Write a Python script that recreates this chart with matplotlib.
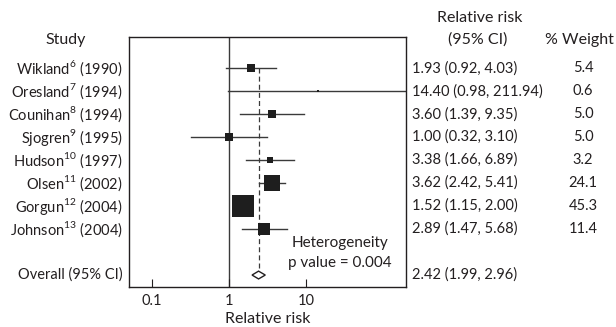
import numpy as np
import matplotlib.pyplot as plt
from matplotlib.transforms import blended_transform_factory

plt.rcParams["font.family"] = ["Lato", "DejaVu Sans"]
plt.rcParams["mathtext.fontset"] = "custom"
plt.rcParams["mathtext.rm"] = "Lato"

# data
studies = ["Wikland", "Oresland", "Counihan", "Sjogren", "Hudson", "Olsen", "Gorgun", "Johnson"]
refs = ["6", "7", "8", "9", "10", "11", "12", "13"]
years = ["1990", "1994", "1994", "1995", "1997", "2002", "2004", "2004"]
rr = [1.93, 14.40, 3.60, 1.00, 3.38, 3.62, 1.52, 2.89]
ci_low = [0.92, 0.98, 1.39, 0.32, 1.66, 2.42, 1.15, 1.47]
ci_high = [4.03, 211.94, 9.35, 3.10, 6.89, 5.41, 2.00, 5.68]
weights = [5.4, 0.6, 5.0, 5.0, 3.2, 24.1, 45.3, 11.4]
overall = 2.42
overall_low = 1.99
overall_high = 2.96
xticks = [0.1, 1, 10]
xtick_labels = ["0.1", "1", "10"]

TEXT_COLOR = "#231f20"
LINE_COLOR = "#3a3a3a"
FS = 10.5
FS_HEAD = 11.5

fig = plt.figure(figsize=(6.16, 3.27), dpi=100)
ax = fig.add_axes([129 / 616, 1 - 287 / 327, 277 / 616, 250 / 327])

rows = np.arange(len(studies))
overall_row = 9
half_h = 0.17

ax.axvline(1, color=LINE_COLOR, lw=1.0, zorder=1)
ax.plot([overall, overall], [rows[0], overall_row - half_h], color=LINE_COLOR,
        lw=0.9, ls=(0, (4, 2.5)), zorder=1)

for y, est, lo, hi, w in zip(rows, rr, ci_low, ci_high, weights):
    ax.plot([lo, hi], [y, y], color=LINE_COLOR, lw=1.0, zorder=2)
    ax.plot([est], [y], marker="s", color="#1e1e1e", markersize=2.45 * np.sqrt(w),
            markeredgewidth=0, zorder=3)

ax.fill([overall_low, overall, overall_high, overall],
        [overall_row, overall_row - half_h, overall_row, overall_row + half_h],
        facecolor="white", edgecolor=TEXT_COLOR, lw=1.0, zorder=4)

ax.set_xscale("log")
ax.set_xlim(0.05, 200)
ax.set_ylim(9.52, -1.35)
ax.set_xticks(xticks)
ax.set_xticklabels(xtick_labels)
ax.minorticks_off()
ax.set_yticks([])
ax.tick_params(axis="x", direction="in", length=6, width=0.8, colors=TEXT_COLOR,
               labelsize=FS, pad=5)
for spine in ax.spines.values():
    spine.set_color(TEXT_COLOR)
    spine.set_linewidth(1.0)
ax.set_xlabel("Relative risk", fontsize=FS_HEAD, color=TEXT_COLOR, labelpad=3)

ax.text(0.76, 8.05, "Heterogeneity\np value = 0.004", transform=blended_transform_factory(ax.transAxes, ax.transData),
        ha="center", va="center", fontsize=11, color=TEXT_COLOR, linespacing=1.6)

tr = blended_transform_factory(fig.transFigure, ax.transData)
for y, name, ref, year, est, lo, hi, w in zip(rows, studies, refs, years, rr, ci_low, ci_high, weights):
    ax.text(123 / 616, y, f"{name}$^{{{ref}}}$ ({year})", transform=tr, ha="right",
            va="center", fontsize=FS, color=TEXT_COLOR)
    ax.text(412 / 616, y, f"{est:.2f} ({lo:.2f}, {hi:.2f})", transform=tr, ha="left",
            va="center", fontsize=FS, color=TEXT_COLOR)
    ax.text(583 / 616, y, f"{w:.1f}", transform=tr, ha="center", va="center",
            fontsize=FS, color=TEXT_COLOR)

ax.text(123 / 616, overall_row, "Overall (95% CI)", transform=tr, ha="right",
        va="center", fontsize=FS, color=TEXT_COLOR)
ax.text(412 / 616, overall_row, f"{overall:.2f} ({overall_low:.2f}, {overall_high:.2f})",
        transform=tr, ha="left", va="center", fontsize=FS, color=TEXT_COLOR)

fig.text(66 / 616, 1 - 40 / 327, "Study", ha="center", va="center", fontsize=FS_HEAD, color=TEXT_COLOR)
fig.text(480 / 616, 1 - 18 / 327, "Relative risk", ha="center", va="center", fontsize=FS_HEAD, color=TEXT_COLOR)
fig.text(478 / 616, 1 - 40 / 327, "(95% CI)", ha="center", va="center", fontsize=FS_HEAD, color=TEXT_COLOR)
fig.text(579 / 616, 1 - 40 / 327, "% Weight", ha="center", va="center", fontsize=FS_HEAD, color=TEXT_COLOR)

fig.savefig("out.png", dpi=100)
